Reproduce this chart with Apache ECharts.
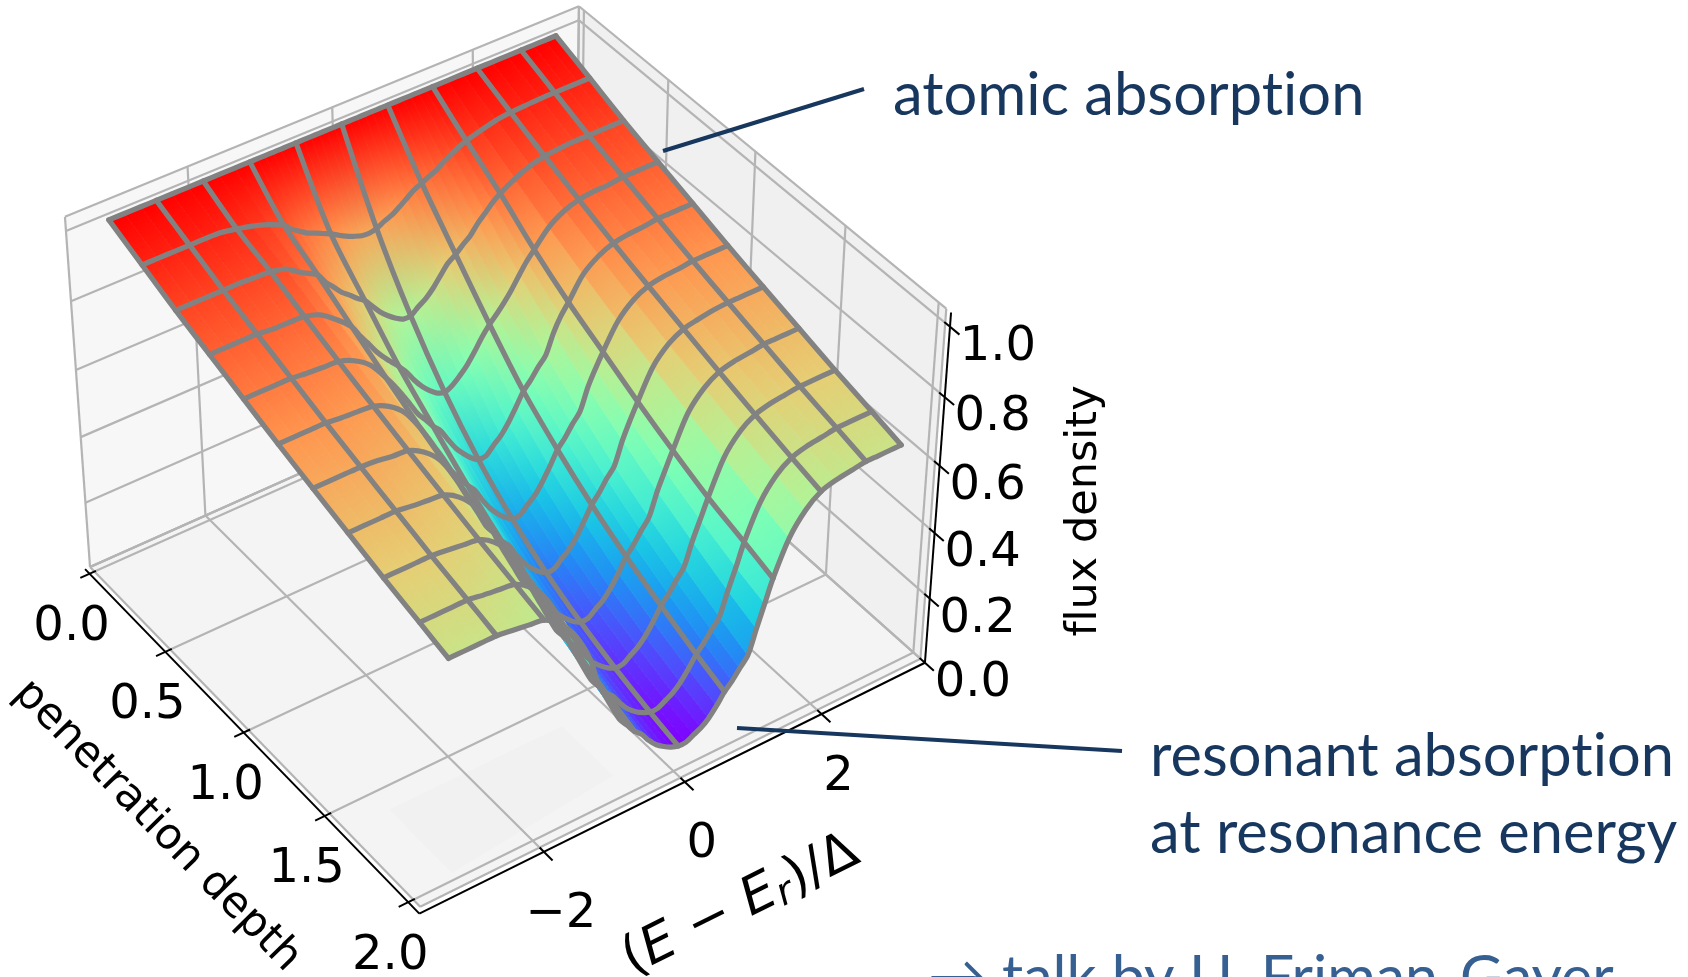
<!DOCTYPE html>
<html>
<head>
<meta charset="utf-8">
<style>html,body{margin:0;padding:0;background:#fff;overflow:hidden}#chart{width:1688px;height:977px}</style>
<script src="https://cdn.jsdelivr.net/npm/echarts@6/dist/echarts.min.js"></script>
</head>
<body>
<div id="chart"></div>
<script>
// ---- data ----
var energyColumns = [-3.14,-2.93,-2.71,-2.50,-2.29,-2.07,-1.86,-1.65,-1.43,-1.22,-1.115,-1.01,-0.90,-0.79,-0.685,-0.58,-0.475,-0.37,-0.26,-0.15,-0.045,0.06,0.17,0.28,0.385,0.49,0.60,0.71,0.815,0.92,1.03,1.14,1.245,1.35,1.56,1.78,1.99,2.20,2.42,2.63,2.80,2.97,3.14];
var depthRows = [0,0.204,0.408,0.612,0.816,1.02,1.224,1.428,1.632,1.837,2.0];
// flux density: one list per energy column, one value per depth row
var fluxDensity = [
[1,.96,.92,.885,.85,.815,.783,.752,.721,.693,.67],
[1,.96,.92,.885,.85,.815,.783,.752,.721,.693,.67],
[1,.96,.92,.885,.85,.815,.783,.752,.721,.693,.67],
[1,.96,.92,.885,.85,.815,.783,.752,.721,.693,.67],
[1,.96,.92,.88,.845,.81,.78,.746,.716,.686,.664],
[1,.958,.918,.879,.842,.807,.773,.741,.71,.68,.657],
[1,.95,.916,.877,.839,.803,.769,.736,.704,.674,.65],
[1,.94,.905,.863,.822,.783,.745,.71,.676,.644,.619],
[1,.925,.875,.83,.789,.744,.701,.661,.623,.587,.56],
[1,.905,.85,.79,.733,.679,.628,.581,.538,.498,.468],
[1,.885,.82,.755,.702,.64,.582,.528,.478,.428,.39],
[1,.87,.797,.725,.667,.599,.538,.481,.43,.379,.34],
[1,.855,.772,.691,.628,.556,.491,.432,.379,.328,.29],
[1,.845,.754,.663,.588,.511,.443,.383,.33,.28,.243],
[1,.835,.735,.639,.561,.482,.413,.352,.30,.251,.215],
[1,.825,.719,.616,.532,.451,.38,.32,.268,.22,.186],
[1,.812,.693,.59,.509,.426,.355,.295,.244,.198,.165],
[1,.80,.667,.557,.472,.387,.316,.257,.209,.165,.135],
[1,.79,.646,.528,.436,.351,.281,.224,.177,.137,.11],
[1,.782,.629,.505,.409,.323,.254,.199,.155,.117,.093],
[1,.78,.617,.488,.387,.302,.234,.18,.138,.103,.08],
[1,.785,.617,.481,.372,.287,.22,.168,.127,.094,.072],
[1,.796,.634,.491,.372,.287,.22,.168,.127,.094,.072],
[1,.805,.649,.51,.394,.308,.24,.186,.143,.107,.084],
[1,.819,.67,.532,.413,.327,.258,.202,.158,.12,.095],
[1,.834,.697,.561,.441,.356,.285,.228,.181,.141,.113],
[1,.85,.724,.595,.478,.393,.323,.263,.214,.171,.14],
[1,.86,.74,.623,.516,.434,.363,.303,.252,.205,.172],
[1,.871,.759,.645,.54,.459,.389,.329,.277,.229,.194],
[1,.88,.776,.669,.568,.49,.421,.361,.308,.258,.222],
[1,.896,.803,.698,.594,.518,.45,.391,.338,.287,.25],
[1,.908,.824,.731,.65,.58,.515,.458,.405,.355,.32],
[1,.919,.845,.761,.69,.625,.565,.51,.46,.415,.385],
[1,.928,.861,.785,.72,.665,.61,.56,.515,.48,.45],
[1,.94,.885,.832,.783,.736,.693,.652,.613,.577,.549],
[1,.951,.904,.86,.817,.778,.74,.703,.669,.636,.61],
[1,.956,.914,.874,.835,.799,.764,.73,.698,.667,.644],
[1,.958,.918,.879,.842,.807,.773,.741,.71,.68,.657],
[1,.96,.92,.88,.845,.81,.78,.746,.716,.686,.664],
[1,.96,.92,.885,.85,.815,.783,.752,.721,.693,.67],
[1,.96,.92,.885,.85,.815,.783,.752,.721,.693,.67],
[1,.96,.92,.885,.85,.815,.783,.752,.721,.693,.67],
[1,.96,.92,.885,.85,.815,.783,.752,.721,.693,.67]
];
var wireColumns = [0,3,6,9,15,21,27,33,36,39,42];
var energyTicks = [-2,0,2];
var energyTickLabels = ['\u22122','0','2'];
var depthTicks = [0,0.5,1,1.5,2];
var depthTickLabels = ['0.0','0.5','1.0','1.5','2.0'];
var fluxTicks = [0,0.2,0.4,0.6,0.8,1];
var fluxTickLabels = ['0.0','0.2','0.4','0.6','0.8','1.0'];
var axisRange = {Emin:-3.65,Emax:3.55,dmin:-0.03,dmax:2.04,zmin:0,zmax:1.04};
var rainbow = ['#8000ff','#4d4ffc','#1a96f3','#1acee3','#4df3ce','#80ffb4','#b3f396','#e6ce74','#ff964f','#ff4f28','#ff0000'];

// ---- camera: (E, depth, flux) -> page position, fitted to the box of the reference ----
var cameraFit = [
[-3.65,-.03,0,92,560],[-3.65,2.04,0,424,908],[3.55,2.04,0,921,655],[3.55,2.04,1.04,944,305],
[-3.65,-.03,1.04,68,218],[3.55,-.03,1.04,583,10],[-2,-.03,0,203,515],[-2,.5,0,286,598],
[-2,1,0,366,678],[-2,1.5,0,451,762],[-2,2.04,0,538,848],[0,2.04,0,676,775],[2,2.04,0,814,710],
[3.55,1.5,0,829,577],[3.55,1.5,1.04,848,226],[3.55,1,1.04,757,152],[3.55,.5,1.04,669,80],
[-2,-.03,1.04,185,165],[0,-.03,1.04,329,107],[2,-.03,1.04,469,49]
];
function solveCamera(rows){
  var n=11,A=[],b=[],i,j,k;
  for(i=0;i<n;i++){A.push(new Array(n).fill(0));b.push(0);}
  function add(c,r){for(var i=0;i<n;i++){for(var j=0;j<n;j++)A[i][j]+=c[i]*c[j];b[i]+=c[i]*r;}}
  rows.forEach(function(p){
    var X=p[3]/1000,Y=p[4]/1000;
    add([p[0],p[1],p[2],1,0,0,0,0,-X*p[0],-X*p[1],-X*p[2]],X);
    add([0,0,0,0,p[0],p[1],p[2],1,-Y*p[0],-Y*p[1],-Y*p[2]],Y);
  });
  for(i=0;i<n;i++){
    var m=i;for(k=i+1;k<n;k++)if(Math.abs(A[k][i])>Math.abs(A[m][i]))m=k;
    var t=A[i];A[i]=A[m];A[m]=t;t=b[i];b[i]=b[m];b[m]=t;
    for(k=i+1;k<n;k++){var f=A[k][i]/A[i][i];for(j=i;j<n;j++)A[k][j]-=f*A[i][j];b[k]-=f*b[i];}
  }
  var x=new Array(n);
  for(i=n-1;i>=0;i--){var s=b[i];for(j=i+1;j<n;j++)s-=A[i][j]*x[j];x[i]=s/A[i][i];}
  return x;
}
var cam=solveCamera(cameraFit);
function depthOf(E,d,z){return cam[8]*E+cam[9]*d+cam[10]*z+1;}
function project(E,d,z){
  var w=depthOf(E,d,z);
  return [1000*(cam[0]*E+cam[1]*d+cam[2]*z+cam[3])/w,1000*(cam[4]*E+cam[5]*d+cam[6]*z+cam[7])/w];
}

// the reference text has no "ti" ligature: a tiny letter spacing switches ligatures off
(function(){
  var proto=CanvasRenderingContext2D.prototype,orig=proto.fillText;
  proto.fillText=function(){ if('letterSpacing' in this) this.letterSpacing='0.01px'; return orig.apply(this,arguments); };
})();

// ---- marks built from the arrays above ----
var R=axisRange;
var panes=[
 {fill:'#f7f7f7',pts:[[R.Emin,R.dmin,R.zmin],[R.Emax,R.dmin,R.zmin],[R.Emax,R.dmin,R.zmax],[R.Emin,R.dmin,R.zmax]]},
 {fill:'#f0f0f0',pts:[[R.Emax,R.dmin,R.zmin],[R.Emax,R.dmax,R.zmin],[R.Emax,R.dmax,R.zmax],[R.Emax,R.dmin,R.zmax]]},
 {fill:'#f4f4f4',pts:[[R.Emin,R.dmin,R.zmin],[R.Emax,R.dmin,R.zmin],[R.Emax,R.dmax,R.zmin],[R.Emin,R.dmax,R.zmin]]}
];
var gridLines=[];
panes.forEach(function(p){var q=p.pts;for(var i=0;i<4;i++)gridLines.push([q[i],q[(i+1)%4]]);});
panes.push({fill:'#f1f1f1',pts:[[-3.05,1.6,0],[-0.62,1.6,0],[-0.62,1.9,0],[-3.05,1.97,0]]});
energyTicks.forEach(function(E){
  gridLines.push([[E,R.dmin,R.zmin],[E,R.dmax,R.zmin]]);
  gridLines.push([[E,R.dmin,R.zmin],[E,R.dmin,R.zmax]]);
});
depthTicks.forEach(function(d){
  gridLines.push([[R.Emin,d,R.zmin],[R.Emax,d,R.zmin]]);
  gridLines.push([[R.Emax,d,R.zmin],[R.Emax,d,R.zmax]]);
});
fluxTicks.forEach(function(z){
  gridLines.push([[R.Emin,R.dmin,z],[R.Emax,R.dmin,z]]);
  gridLines.push([[R.Emax,R.dmin,z],[R.Emax,R.dmax,z]]);
});
var axOffE=-0.07,axOffD=0.025;
var axisLines=[
 [[R.Emin+axOffE,R.dmin,R.zmin],[R.Emin+axOffE,R.dmax+axOffD,R.zmin]],
 [[R.Emin+axOffE,R.dmax+axOffD,R.zmin],[R.Emax,R.dmax+axOffD,R.zmin]],
 [[R.Emax,R.dmax+axOffD,R.zmin],[R.Emax,R.dmax+axOffD,R.zmax]]
];
energyTicks.forEach(function(E){axisLines.push([[E,R.dmax,R.zmin],[E,R.dmax+0.075,R.zmin]]);});
depthTicks.forEach(function(d){axisLines.push([[R.Emin-0.2,d,R.zmin],[R.Emin+0.02,d,R.zmin]]);});
fluxTicks.forEach(function(z){axisLines.push([[R.Emax,R.dmax-0.005,z],[R.Emax,R.dmax+0.075,z]]);});

var cells=[],zLow=1;
fluxDensity.forEach(function(col){col.forEach(function(v){if(v<zLow)zLow=v;});});
for(var ei=0;ei<energyColumns.length-1;ei++){
  for(var di=0;di<depthRows.length-1;di++){
    var mz=(fluxDensity[ei][di]+fluxDensity[ei+1][di]+fluxDensity[ei][di+1]+fluxDensity[ei+1][di+1])/4;
    var w=depthOf((energyColumns[ei]+energyColumns[ei+1])/2,(depthRows[di]+depthRows[di+1])/2,mz);
    cells.push([ei,di,w]);
  }
}
cells.sort(function(a,b){return b[2]-a[2];});

var wires=[];
wireColumns.forEach(function(c){
  wires.push(depthRows.map(function(d,r){return [energyColumns[c],d,fluxDensity[c][r]];}));
});
depthRows.forEach(function(d,r){
  wires.push(energyColumns.map(function(E,c){return [E,d,fluxDensity[c][r]];}));
});

var tickTexts=[];
energyTicks.forEach(function(E,i){tickTexts.push({p:[E,R.dmax+axOffD,R.zmin],o:[17,63],t:energyTickLabels[i]});});
depthTicks.forEach(function(d,i){tickTexts.push({p:[R.Emin+axOffE,d,R.zmin],o:[-18,54],t:depthTickLabels[i]});});
fluxTicks.forEach(function(z,i){tickTexts.push({p:[R.Emax,R.dmax+axOffD,z],o:[48,20.5],t:fluxTickLabels[i]});});

function ptsOf(api,list){return list.map(function(p){return api.coord(project(p[0],p[1],p[2]));});}
function indexData(n){var a=[];for(var i=0;i<n;i++)a.push([i]);return a;}
function colorAt(v){return echarts.color.lerp(Math.max(0,Math.min(1,(v-zLow)/(1-zLow))),rainbow);}

var sansFont='"DejaVu Sans"',noteFont='Lato',noteSize=59.6,noteColor='#17375e';
var chart=echarts.init(document.getElementById('chart'),null,{renderer:'canvas'});
chart.setOption({
  animation:false,
  backgroundColor:'#ffffff',
  grid:{left:0,top:0,width:1688,height:977},
  xAxis:{type:'value',min:0,max:1688,show:false},
  yAxis:{type:'value',min:0,max:977,inverse:true,show:false},
  tooltip:{show:false},
  series:[
   {type:'custom',name:'panes',coordinateSystem:'cartesian2d',clip:false,silent:true,z:1,data:indexData(panes.length),
    renderItem:function(params,api){var p=panes[params.dataIndex];
      return {type:'polygon',shape:{points:ptsOf(api,p.pts)},style:{fill:p.fill}};}},
   {type:'custom',name:'grid',coordinateSystem:'cartesian2d',clip:false,silent:true,z:2,data:indexData(gridLines.length),
    renderItem:function(params,api){
      return {type:'polyline',shape:{points:ptsOf(api,gridLines[params.dataIndex])},style:{fill:null,stroke:'#b4b4b4',lineWidth:2.2}};}},
   {type:'custom',name:'surface',coordinateSystem:'cartesian2d',clip:false,silent:true,z:3,data:cells,
    renderItem:function(params,api){
      var c=cells[params.dataIndex],i=c[0],j=c[1];
      var E0=energyColumns[i],E1=energyColumns[i+1],d0=depthRows[j],d1=depthRows[j+1];
      var a=fluxDensity[i][j],b=fluxDensity[i+1][j],e=fluxDensity[i+1][j+1],f=fluxDensity[i][j+1];
      var pts=ptsOf(api,[[E0,d0,a],[E1,d0,b],[E1,d1,e],[E0,d1,f]]);
      var g={type:'linear',global:true,
        x:(pts[0][0]+pts[1][0])/2,y:(pts[0][1]+pts[1][1])/2,
        x2:(pts[2][0]+pts[3][0])/2,y2:(pts[2][1]+pts[3][1])/2,
        colorStops:[{offset:0,color:colorAt((a+b)/2)},{offset:1,color:colorAt((e+f)/2)}]};
      return {type:'polygon',shape:{points:pts},style:{fill:g,stroke:g,lineWidth:0.8}};
    }},
   {type:'custom',name:'wires',coordinateSystem:'cartesian2d',clip:false,silent:true,z:4,data:indexData(wires.length),
    renderItem:function(params,api){
      return {type:'polyline',shape:{points:ptsOf(api,wires[params.dataIndex]),smooth:0.3},
        style:{fill:null,stroke:'#828282',lineWidth:5.2,lineJoin:'round',lineCap:'round'}};}},
   {type:'custom',name:'axes',coordinateSystem:'cartesian2d',clip:false,silent:true,z:5,data:indexData(axisLines.length),
    renderItem:function(params,api){
      return {type:'polyline',shape:{points:ptsOf(api,axisLines[params.dataIndex])},style:{fill:null,stroke:'#000',lineWidth:2}};}},
   {type:'custom',name:'ticks',coordinateSystem:'cartesian2d',clip:false,silent:true,z:6,data:indexData(tickTexts.length),
    renderItem:function(params,api){
      var t=tickTexts[params.dataIndex],q=api.coord(project(t.p[0],t.p[1],t.p[2]));
      return {type:'text',x:q[0]+t.o[0],y:q[1]+t.o[1],
        style:{text:t.t,fill:'#000',fontFamily:sansFont,fontSize:48,align:'center',verticalAlign:'middle'}};}}
  ],
  graphic:{elements:[
   {type:'text',z:50,x:157,y:826,rotation:-Math.PI/3.95,silent:true,
    style:{text:'penetration depth',fill:'#000',fontFamily:sansFont,fontSize:43,align:'center',verticalAlign:'middle'}},
   {type:'text',z:50,x:1085,y:511,rotation:Math.PI/2,silent:true,
    style:{text:'flux density',fill:'#000',fontFamily:sansFont,fontSize:43,align:'center',verticalAlign:'middle'}},
   {type:'text',z:50,x:741,y:906,rotation:0.46,silent:true,
    style:{text:'{n|(}{i|E}{n| \u2212 }{i|E}{s|r}{n|)/\u0394}',align:'center',verticalAlign:'middle',
      rich:{n:{fontFamily:sansFont,fontSize:53,fill:'#000'},
            i:{fontFamily:sansFont,fontStyle:'italic',fontSize:53,fill:'#000'},
            s:{fontFamily:sansFont,fontStyle:'italic',fontSize:38,fill:'#000',padding:[18,0,0,0]}}}},
   {type:'line',z:40,silent:true,shape:{x1:663,y1:151,x2:864,y2:89},style:{stroke:noteColor,lineWidth:4}},
   {type:'line',z:40,silent:true,shape:{x1:737,y1:728,x2:1122,y2:751},style:{stroke:noteColor,lineWidth:4}},
   {type:'text',z:50,x:893,y:96,silent:true,style:{text:'atomic absorption',fill:noteColor,fontFamily:noteFont,fontSize:noteSize,align:'left',verticalAlign:'middle'}},
   {type:'text',z:50,x:1150,y:757,silent:true,style:{text:'resonant absorption',fill:noteColor,fontFamily:noteFont,fontSize:noteSize,align:'left',verticalAlign:'middle'}},
   {type:'text',z:50,x:1150,y:834,silent:true,style:{text:'at resonance energy',fill:noteColor,fontFamily:noteFont,fontSize:noteSize,align:'left',verticalAlign:'middle'}},
   {type:'text',z:50,x:928,y:978,silent:true,style:{text:'\u2192 talk by U. Friman-Gayer',fill:'#376092',fontFamily:noteFont,fontSize:59,align:'left',verticalAlign:'middle'}}
  ]}
});
</script>
</body>
</html>
